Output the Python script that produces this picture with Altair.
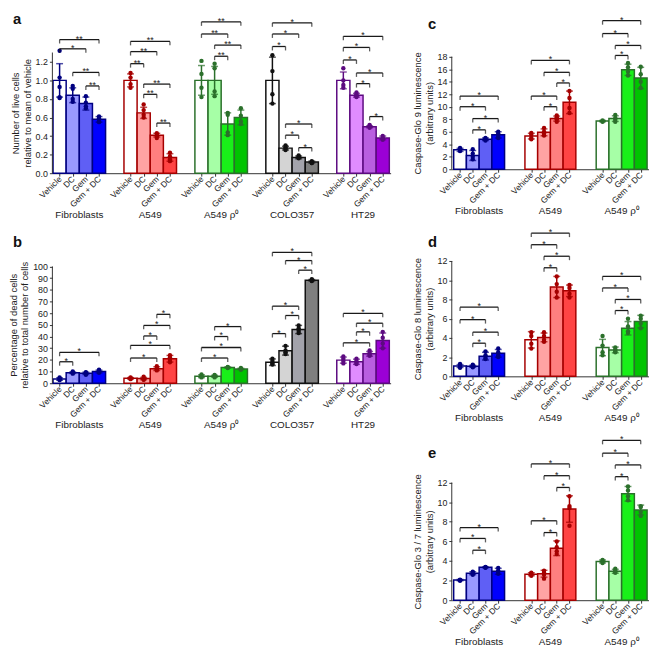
import altair as alt
import pandas as pd

FONT = "Liberation Sans"
AX = "#333333"
INK = "#1a1a1a"

TREATMENTS = ["Vehicle", "DC", "Gem", "Gem + DC"]
CELLS_A = ["Fibroblasts", "A549", "A549 ρ⁰", "COLO357", "HT29"]
CELLS_C = ["Fibroblasts", "A549", "A549 ρ⁰"]

FILLS = {
    "Fibroblasts": ["#ffffff", "#9999ff", "#5f5ff5", "#0000ff"],
    "A549": ["#ffffff", "#ffa3a3", "#ff7f7f", "#ff4444"],
    "A549 ρ⁰": ["#ffffff", "#a6ffa6", "#19f019", "#00c400"],
    "COLO357": ["#ffffff", "#d4d4d4", "#a3a3ab", "#7f7f7f"],
    "HT29": ["#ffffff", "#e08cff", "#b95ee0", "#9b00d6"],
}
EDGES = {
    "Fibroblasts": "#000080",
    "A549": "#a50000",
    "A549 ρ⁰": "#2b702b",
    "COLO357": "#111111",
    "HT29": "#5c0a80",
}

# ---------------- panel a : live cells ----------------
a_mean = [[1.00, 0.84, 0.75, 0.58], [1.00, 0.65, 0.41, 0.17], [1.00, 1.00, 0.53, 0.60],
          [1.00, 0.27, 0.17, 0.12], [1.00, 0.84, 0.50, 0.38]]
a_sd = [[0.18, 0.08, 0.07, 0.03], [0.07, 0.06, 0.02, 0.04], [0.16, 0.15, 0.12, 0.08],
        [0.25, 0.02, 0.015, 0.01], [0.09, 0.02, 0.01, 0.02]]
a_pts = [
    [[1.32, 1.03, 0.93, 0.82, 0.81], [0.94, 0.91, 0.80, 0.77], [0.83, 0.76, 0.72, 0.70], [0.61, 0.59, 0.56, 0.55]],
    [[1.08, 1.03, 0.96, 0.92], [0.74, 0.68, 0.63, 0.60], [0.43, 0.41, 0.40, 0.38], [0.22, 0.18, 0.15, 0.13]],
    [[1.21, 1.07, 0.92, 0.82], [1.18, 1.13, 0.88, 0.83], [0.65, 0.63, 0.44, 0.41], [0.70, 0.62, 0.56, 0.53]],
    [[1.27, 1.10, 0.85, 0.75], [0.30, 0.28, 0.26, 0.25], [0.19, 0.18, 0.17, 0.16], [0.13, 0.12, 0.11, 0.11]],
    [[1.13, 1.00, 0.95, 0.92], [0.87, 0.85, 0.83, 0.82], [0.52, 0.51, 0.50, 0.49], [0.40, 0.38, 0.37, 0.36]],
]
a_sig = [
    (0, 0, 3, 1.44, "**"), (0, 0, 2, 1.34, "*"), (0, 1, 3, 1.086, "**"), (0, 2, 3, 0.94, "**"),
    (1, 0, 3, 1.42, "**"), (1, 0, 2, 1.31, "**"), (1, 0, 1, 1.18, "**"), (1, 1, 3, 0.96, "**"),
    (1, 1, 2, 0.85, "**"), (1, 2, 3, 0.54, "**"),
    (2, 0, 3, 1.63, "**"), (2, 0, 2, 1.50, "**"), (2, 1, 3, 1.38, "**"), (2, 1, 2, 1.26, "**"),
    (3, 0, 3, 1.62, "*"), (3, 0, 2, 1.50, "*"), (3, 0, 1, 1.365, "*"), (3, 1, 3, 0.53, "*"),
    (3, 1, 2, 0.41, "*"), (3, 2, 3, 0.275, "*"),
    (4, 0, 3, 1.475, "*"), (4, 0, 2, 1.355, "*"), (4, 0, 1, 1.22, "*"), (4, 1, 3, 1.08, "*"),
    (4, 1, 2, 0.965, "*"), (4, 2, 3, 0.61, "*"),
]
a_ticks = [0.0, 0.2, 0.4, 0.6, 0.8, 1.0, 1.2]

# ---------------- panel b : dead cells ----------------
b_mean = [[3.6, 9.0, 8.5, 10.0], [4.2, 4.0, 12.5, 21.0], [6.0, 6.0, 13.5, 12.2],
          [18.0, 27.9, 46.0, 88.2], [19.8, 18.4, 25.2, 36.5]]
b_sd = [[1.0, 0.6, 1.0, 1.2], [0.6, 1.0, 1.6, 2.8], [1.2, 0.8, 0.5, 0.6],
        [2.8, 3.8, 3.5, 0.6], [2.6, 2.2, 2.0, 6.5]]
b_pts = [
    [[5.0, 4.0, 3.0, 2.8], [10.0, 9.5, 8.8, 8.2], [9.5, 9.0, 8.0, 7.2], [11.5, 10.8, 9.8, 9.0]],
    [[5.0, 4.5, 4.0, 3.5], [5.5, 4.0, 3.2, 3.0], [14.5, 13.0, 12.0, 11.0], [24.0, 22.0, 20.0, 18.0]],
    [[7.5, 6.5, 5.5, 5.0], [7.0, 6.5, 5.8, 5.0], [14.0, 13.6, 13.4, 13.0], [13.0, 12.5, 12.0, 11.5]],
    [[21.0, 19.0, 17.0, 16.0], [32.0, 28.0, 26.5, 25.0], [49.5, 47.0, 45.0, 43.0], [89.0, 88.5, 88.0, 87.5]],
    [[23.0, 21.0, 19.0, 17.0], [21.0, 19.0, 17.5, 16.5], [28.0, 26.0, 24.5, 23.5], [44.0, 39.0, 34.0, 30.0]],
]
b_sig = [
    (0, 0, 3, 26.5, "*"), (0, 0, 1, 18.4, "*"),
    (1, 0, 2, 21.6, "*"), (1, 0, 3, 32.4, "*"), (1, 1, 2, 40.5, "*"), (1, 1, 3, 49.5, "*"), (1, 2, 3, 59.0, "*"),
    (2, 0, 2, 21.6, "*"), (2, 0, 3, 30.6, "*"), (2, 1, 2, 40.0, "*"), (2, 1, 3, 48.5, "*"),
    (3, 0, 1, 42.5, "*"), (3, 1, 2, 58.0, "*"), (3, 0, 2, 66.0, "*"), (3, 2, 3, 96.8, "*"),
    (3, 1, 3, 105.0, "*"), (3, 0, 3, 112.0, "*"),
    (4, 0, 2, 34.6, "*"), (4, 1, 2, 44.0, "*"), (4, 1, 3, 51.4, "*"), (4, 0, 3, 59.8, "*"),
]
b_ticks = [0, 10, 20, 30, 40, 50, 60, 70, 80, 90, 100]

# ---------------- panel c : Caspase-Glo 9 ----------------
c_mean = [[3.1, 2.2, 4.8, 5.5], [5.3, 5.9, 8.1, 10.7], [7.7, 8.1, 15.9, 14.6]]
c_sd = [[0.25, 0.8, 0.2, 0.5], [0.45, 0.55, 0.4, 1.8], [0.1, 0.45, 0.9, 1.7]]
c_pts = [
    [[3.4, 3.2, 3.0, 2.9], [3.2, 2.5, 2.0, 1.6], [5.0, 4.9, 4.7, 4.6], [6.0, 5.7, 5.3, 5.0]],
    [[5.8, 5.5, 5.0, 4.8], [6.6, 6.0, 5.7, 5.4], [8.6, 8.3, 8.0, 7.6], [12.5, 11.4, 9.8, 9.0]],
    [[7.8, 7.7, 7.7, 7.6], [8.7, 8.2, 7.9, 7.6], [17.0, 16.3, 15.6, 15.0], [16.4, 15.2, 14.0, 13.0]],
]
c_sig = [
    (0, 0, 3, 11.7, "*"), (0, 0, 2, 10.0, "*"), (0, 1, 3, 8.1, "*"), (0, 1, 2, 6.3, "*"),
    (1, 0, 3, 17.4, "*"), (1, 1, 3, 15.5, "*"), (1, 2, 3, 13.8, "*"), (1, 0, 2, 11.7, "*"), (1, 1, 2, 10.0, "*"),
    (2, 0, 3, 23.75, "*"), (2, 0, 2, 21.7, "*"), (2, 1, 3, 19.8, "*"), (2, 1, 2, 18.2, "*"),
]
c_ticks = [0, 2, 4, 6, 8, 10, 12, 14, 16, 18]

# ---------------- panel d : Caspase-Glo 8 ----------------
d_mean = [[1.07, 1.05, 2.1, 2.4], [3.8, 4.05, 9.3, 8.9], [3.0, 2.75, 5.0, 5.7]]
d_sd = [[0.15, 0.1, 0.4, 0.4], [0.85, 0.45, 1.1, 0.6], [0.85, 0.3, 0.7, 0.65]]
d_pts = [
    [[1.3, 1.1, 1.0, 0.9], [1.2, 1.1, 1.0, 0.95], [2.6, 2.2, 1.9, 1.8], [2.9, 2.5, 2.2, 2.0]],
    [[4.6, 4.2, 3.4, 2.9], [4.6, 4.2, 3.8, 3.6], [10.4, 9.6, 8.8, 8.2], [9.5, 9.2, 8.6, 8.2]],
    [[4.2, 3.2, 2.5, 2.2], [3.0, 2.8, 2.6, 2.5], [6.0, 5.2, 4.7, 4.5], [6.3, 6.0, 5.5, 5.0]],
]
d_sig = [
    (0, 0, 3, 7.2, "*"), (0, 0, 2, 5.9, "*"), (0, 1, 3, 4.6, "*"), (0, 1, 2, 3.45, "*"),
    (1, 0, 3, 14.9, "*"), (1, 0, 2, 13.7, "*"), (1, 1, 3, 12.5, "*"), (1, 1, 2, 11.3, "*"),
    (2, 0, 3, 10.4, "*"), (2, 0, 2, 9.2, "*"), (2, 1, 3, 8.0, "*"), (2, 1, 2, 6.85, "*"),
]
d_ticks = [0, 2, 4, 6, 8, 10, 12]

# ---------------- panel e : Caspase-Glo 3/7 ----------------
e_mean = [[2.05, 2.75, 3.35, 2.95], [2.65, 2.7, 5.3, 9.3], [3.95, 2.95, 10.85, 9.2]]
e_sd = [[0.07, 0.15, 0.03, 0.3], [0.15, 0.35, 0.75, 1.35], [0.15, 0.2, 0.75, 0.5]]
e_pts = [
    [[2.1, 2.05, 2.0, 2.0], [2.9, 2.8, 2.7, 2.6], [3.4, 3.35, 3.35, 3.3], [3.3, 3.0, 2.9, 2.7]],
    [[2.8, 2.7, 2.6, 2.5], [3.0, 2.8, 2.6, 2.2], [6.0, 5.4, 5.0, 4.7], [10.6, 9.6, 9.4, 7.6]],
    [[4.1, 4.0, 3.9, 3.8], [3.2, 3.0, 2.9, 2.8], [11.6, 11.2, 10.6, 10.2], [9.6, 9.5, 9.0, 8.6]],
]
e_sig = [
    (0, 0, 3, 7.4, "*"), (0, 0, 2, 6.3, "*"), (0, 1, 2, 5.1, "*"),
    (1, 0, 3, 13.9, "*"), (1, 1, 3, 12.7, "*"), (1, 2, 3, 11.5, "*"), (1, 0, 2, 8.1, "*"), (1, 1, 2, 6.9, "*"),
    (2, 0, 3, 16.3, "*"), (2, 0, 2, 15.0, "*"), (2, 1, 3, 13.8, "*"), (2, 1, 2, 12.6, "*"),
]
e_ticks = [0, 2, 4, 6, 8, 10, 12]


def panel(cells, means, sds, pts, sigs, period, xdom, ytop, axis_top, yticks, fmt,
          width, height, ytitle, letter, letter_x, letter_y):
    bars, errs, caps, dots, brk, ends, stars, labels = [], [], [], [], [], [], [], []
    centers = []
    for g, cell in enumerate(cells):
        for i in range(len(TREATMENTS)):
            x0 = g * period + i
            xc = x0 + 0.5
            centers.append(xc)
            m, s = means[g][i], sds[g][i]
            edge = EDGES[cell]
            bars.append(dict(x0=x0, x1=x0 + 1, mean=m, fill=FILLS[cell][i], edge=edge))
            errs.append(dict(xc=xc, lo=m - s, hi=m + s, edge=edge))
            caps.append(dict(xc=xc, yc=m - s, edge=edge))
            caps.append(dict(xc=xc, yc=m + s, edge=edge))
            for v in pts[g][i]:
                dots.append(dict(xc=xc, v=v, edge=edge))
        labels.append(dict(xg=g * period + 2, name=cell, base=0))
    for g, i, j, h, lab in sigs:
        xa = g * period + i + 0.5
        xb = g * period + j + 0.5
        brk.append(dict(xa=xa, xb=xb, h=h))
        ends.append(dict(xe=xa, h=h))
        ends.append(dict(xe=xb, h=h))
        stars.append(dict(xm=(xa + xb) / 2, h=h, lab=lab))

    xs = alt.Scale(domain=xdom, nice=False, zero=False)
    ys = alt.Scale(domain=[0, ytop], nice=False, zero=False)
    title_y = height - (axis_top / 2) * height / ytop

    lab_expr = ("['Vehicle','DC','Gem','Gem + DC'][floor((datum.value + 0.001) %% %s)]" % period)

    def X(f):
        return alt.X(f, axis=None)

    def Y(f):
        return alt.Y(f, axis=None)

    base_bar = alt.Chart(pd.DataFrame(bars)).mark_bar(strokeWidth=1.5).encode(
        x=alt.X("x0:Q", scale=xs, axis=alt.Axis(
            values=centers, labelExpr=lab_expr, labelAngle=-45, labelAlign="right",
            labelBaseline="middle", labelFontSize=8.5, labelPadding=1, tickSize=3,
            labelOverlap=False, labelBound=False, labelFlush=False,
            tickColor=AX, domainColor=AX, labelColor="#222", title=None, grid=False)),
        x2="x1:Q",
        y=alt.Y("mean:Q", scale=ys, axis=alt.Axis(
            values=yticks, format=fmt, domain=False, tickSize=3, tickColor=AX,
            labelOverlap=False, labelFlush=False,
            labelFontSize=9, labelPadding=2, labelColor="#222", title=ytitle,
            titleFontSize=9.5, titleFontWeight="normal", titlePadding=3, titleY=title_y,
            titleColor="#222", grid=False)),
        y2=alt.datum(0),
        fill=alt.Fill("fill:N", scale=None),
        stroke=alt.Stroke("edge:N", scale=None),
    )
    err = alt.Chart(pd.DataFrame(errs)).mark_rule(strokeWidth=1.5).encode(
        x=X("xc:Q"), y=Y("lo:Q"), y2="hi:Q",
        color=alt.Color("edge:N", scale=None))
    cap = alt.Chart(pd.DataFrame(caps)).mark_tick(orient="horizontal", size=7, thickness=1.5).encode(
        x=X("xc:Q"), y=Y("yc:Q"),
        color=alt.Color("edge:N", scale=None))
    dot = alt.Chart(pd.DataFrame(dots)).mark_circle(size=20, opacity=1).encode(
        x=X("xc:Q"), y=Y("v:Q"),
        color=alt.Color("edge:N", scale=None))
    bline = alt.Chart(pd.DataFrame(brk)).mark_rule(strokeWidth=1.3).encode(
        x=X("xa:Q"), x2="xb:Q", y=Y("h:Q"),
        color=alt.value(INK))
    bend = alt.Chart(pd.DataFrame(ends)).mark_tick(orient="vertical", size=4, thickness=1.3,
                                                   yOffset=2).encode(
        x=X("xe:Q"), y=Y("h:Q"),
        color=alt.value(INK))
    star = alt.Chart(pd.DataFrame(stars)).mark_text(fontSize=9, font=FONT, baseline="alphabetic",
                                                     dy=2).encode(
        x=X("xm:Q"), y=Y("h:Q"),
        text="lab:N",
        color=alt.value(INK))
    yline = alt.Chart(pd.DataFrame({"k": [0]})).mark_rule(strokeWidth=1).encode(
        x=alt.value(0), y=alt.YDatum(datum=0, axis=None), y2=alt.datum(axis_top),
        color=alt.value(AX))
    glab = alt.Chart(pd.DataFrame(labels)).mark_text(fontSize=10, font=FONT, baseline="middle",
                                                      dy=42).encode(
        x=X("xg:Q"),
        y=Y("base:Q"),
        text="name:N",
        color=alt.value("#222"))
    let = alt.Chart(pd.DataFrame({"t": [letter]})).mark_text(
        fontSize=15, fontWeight="bold", font=FONT, align="left", baseline="top").encode(
        x=alt.value(letter_x), y=alt.value(letter_y), text="t:N", color=alt.value("#111"))

    return alt.layer(base_bar, err, cap, dot, bline, bend, star, yline, glab, let).resolve_axis(
        x="independent", y="independent").properties(width=width, height=height)


WL, WR = 343, 200
pa = panel(CELLS_A, a_mean, a_sd, a_pts, a_sig, 5.4, [-0.05, 25.7], 1.70, 1.3, a_ticks, ".1f",
           WL, 160, ["Number of live cells", "relative to mean of vehicle"], "a", -40, -3)
pb = panel(CELLS_A, b_mean, b_sd, b_pts, b_sig, 5.4, [-0.05, 25.7], 116.5, 100, b_ticks, "d",
           WL, 138, ["Percentage of dead cells", "relative to total number of cells"], "b", -40, -12)
pc = panel(CELLS_C, c_mean, c_sd, c_pts, c_sig, 5.6, [-0.15, 15.35], 24.6, 18, c_ticks, "d",
           WR, 156, ["Caspase-Glo 9 luminescence", "(arbitrary units)"], "c", -24, 2)
pd_ = panel(CELLS_C, d_mean, d_sd, d_pts, d_sig, 5.6, [-0.15, 15.35], 15.6, 12, d_ticks, "d",
            WR, 152, ["Caspase-Glo 8 luminescence", "(arbitrary units)"], "d", -24, 9)
pe = panel(CELLS_C, e_mean, e_sd, e_pts, e_sig, 5.6, [-0.15, 15.35], 17.0, 12, e_ticks, "d",
           WR, 169, ["Caspase-Glo 3 / 7 luminescence", "(arbitrary units)"], "e", -24, 13)

left = alt.vconcat(pa, pb, spacing=16)
right = alt.vconcat(pc, pd_, pe, spacing=11)
chart = alt.hconcat(left, right, spacing=22).configure(
    font=FONT, padding=0, view=alt.ViewConfig(stroke=None))

chart.save("out.html", embed_options={"renderer": "svg", "actions": False})
